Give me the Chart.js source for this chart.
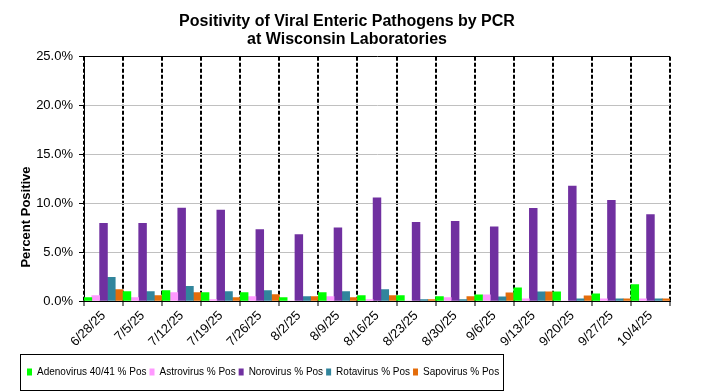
<!DOCTYPE html>
<html>
<head>
<meta charset="utf-8">
<script src="https://cdn.jsdelivr.net/npm/chart.js@4.4.1/dist/chart.umd.min.js"></script>
<style>
    body { margin: 0; background: #fff; }
    #wrap { width: 704px; height: 391px; }
</style>
</head>
<body>
<div id="wrap"><canvas id="pcrChart" width="704" height="391"></canvas></div>
<script>
    // Data
    const weeks = ['6/28/25', '7/5/25', '7/12/25', '7/19/25', '7/26/25', '8/2/25', '8/9/25', '8/16/25', '8/23/25', '8/30/25', '9/6/25', '9/13/25', '9/20/25', '9/27/25', '10/4/25'];
    const adenovirus = [0.34, 0.97, 1.07, 0.86, 0.86, 0.34, 0.86, 0.55, 0.55, 0.45, 0.63, 1.35, 0.94, 0.73, 1.67];
    const astrovirus = [0.55, 0.34, 0.86, 0.14, 0.45, 0, 0.45, 0.14, 0, 0.34, 0.63, 0.21, 0, 0.21, 0.21];
    const norovirus = [7.95, 7.95, 9.51, 9.3, 7.32, 6.8, 7.5, 10.56, 8.06, 8.16, 7.6, 9.48, 11.77, 10.31, 8.85];
    const rotavirus = [2.43, 0.97, 1.49, 0.97, 1.07, 0.45, 0.97, 1.18, 0.14, 0.14, 0.42, 0.94, 0.21, 0.21, 0.21];
    const sapovirus = [1.18, 0.55, 0.86, 0.34, 0.66, 0.45, 0.34, 0.55, 0.14, 0.45, 0.83, 0.94, 0.52, 0.21, 0.21];
    const yTicks = [0, 5, 10, 15, 20, 25];

    const sans = "'Liberation Sans', Arial, sans-serif";
    Chart.defaults.font.family = sans;
    Chart.defaults.color = '#000';

    // legend frame + y axis title
    const extras = {
        id: 'extras',
        afterDraw(chart) {
            const ctx = chart.ctx;
            const boxes = chart.legend.legendHitBoxes;
            if (boxes && boxes.length) {
                const last = boxes[boxes.length - 1];
                const mid = boxes[0].top + boxes[0].height / 2;
                const l = Math.round(boxes[0].left - 7);
                const r = Math.round(last.left + last.width + 4);
                const t = Math.round(mid - 18);
                const b = Math.min(Math.round(mid + 18), 390);
                ctx.save();
                ctx.strokeStyle = '#000';
                ctx.lineWidth = 1;
                ctx.strokeRect(l + 0.5, t + 0.5, r - l, b - t);
                ctx.restore();
            }
            ctx.save();
            ctx.translate(26, 217);
            ctx.rotate(-Math.PI / 2);
            ctx.font = 'bold 13px ' + sans;
            ctx.fillStyle = '#000';
            ctx.textAlign = 'center';
            ctx.textBaseline = 'middle';
            ctx.fillText('Percent Positive', 0, 0);
            ctx.restore();
        }
    };

    const Pcr = document.getElementById('pcrChart');
    const pcrChart = new Chart(Pcr, {
        type: 'bar',
        data: {
            labels: weeks,
            datasets: [
                { label: 'Adenovirus 40/41 % Pos', data: adenovirus, backgroundColor: '#00ff00' },
                { label: 'Astrovirus % Pos', data: astrovirus, backgroundColor: '#ff99ff' },
                { label: 'Norovirus % Pos', data: norovirus, backgroundColor: '#7030a0' },
                { label: 'Rotavirus % Pos', data: rotavirus, backgroundColor: '#31859c' },
                { label: 'Sapovirus % Pos', data: sapovirus, backgroundColor: '#e46c0a' }
            ]
        },
        options: {
            responsive: false,
            animation: false,
            devicePixelRatio: 1,
            layout: { padding: { left: 24, right: 34, top: 0, bottom: 4 } },
            datasets: { bar: { barPercentage: 1, categoryPercentage: 1, borderWidth: 0 } },
            scales: {
                x: {
                    offset: true,
                    grid: {
                        offset: true,
                        color: '#000',
                        lineWidth: 2,
                        tickColor: '#000',
                        tickLength: 5,
                        tickWidth: 1,
                        tickBorderDash: []
                    },
                    border: { color: '#000', width: 1, dash: [4, 2] },
                    ticks: {
                        minRotation: 45,
                        maxRotation: 45,
                        autoSkip: false,
                        padding: 2,
                        font: { size: 13 }
                    },
                    afterFit: function (scale) { scale.height = 63; }
                },
                y: {
                    min: 0,
                    max: 25,
                    afterBuildTicks: function (scale) {
                        scale.ticks = yTicks.map(v => ({ value: v }));
                    },
                    grid: {
                        color: c => (c.tick && c.tick.value === 25) ? '#000' : '#c0c0c0',
                        lineWidth: 1,
                        tickColor: '#000',
                        tickLength: 5
                    },
                    border: { color: '#000', width: 1 },
                    ticks: {
                        padding: 6,
                        font: { size: 13 },
                        callback: v => v.toFixed(1) + '%'
                    },
                    afterFit: function (scale) { scale.width = 60; }
                }
            },
            plugins: {
                title: {
                    display: true,
                    text: ['Positivity of Viral Enteric Pathogens by PCR', 'at Wisconsin Laboratories'],
                    font: { size: 16, weight: 'bold', lineHeight: 1.15 },
                    color: '#000',
                    padding: { top: 12, bottom: 8 }
                },
                legend: {
                    position: 'bottom',
                    align: 'start',
                    labels: {
                        boxWidth: 5,
                        boxHeight: 7,
                        padding: 3,
                        font: { size: 10 }
                    }
                },
                tooltip: { enabled: false }
            }
        },
        plugins: [extras]
    });
</script>
</body>
</html>
